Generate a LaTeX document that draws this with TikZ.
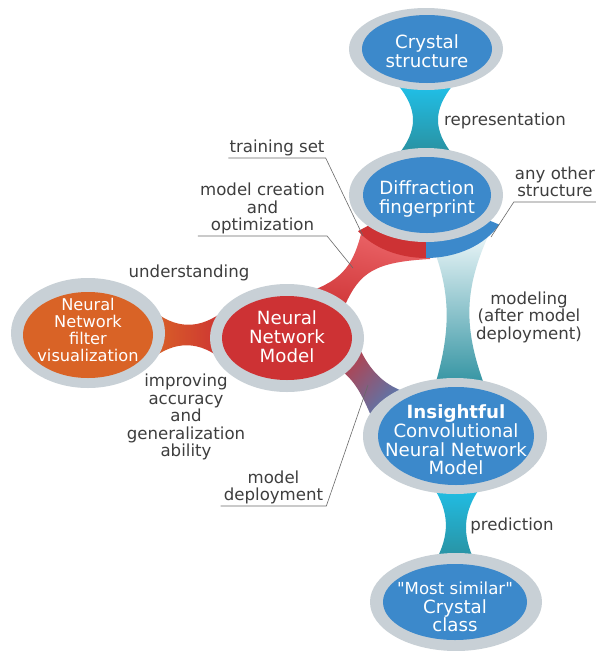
\documentclass[tikz,border=0pt]{standalone}
\usepackage{fontspec}
\setmainfont{DejaVu Sans}[Ligatures=TeXOff]
\usetikzlibrary{shapes.geometric,shadings}
\definecolor{ringgray}{RGB}{200,208,214}
\definecolor{cellblue}{RGB}{60,137,203}
\definecolor{nnred}{RGB}{205,50,52}
\definecolor{pinklight}{RGB}{242,112,116}
\definecolor{vizorange}{RGB}{217,99,38}
\definecolor{neckcyan}{RGB}{32,192,232}
\definecolor{neckteal}{RGB}{42,143,158}
\definecolor{neckpale}{RGB}{238,247,249}
\definecolor{labelgray}{RGB}{62,62,62}
\definecolor{leadgray}{RGB}{105,105,105}
\begin{document}
\begin{tikzpicture}[x=1pt,y=-1pt,
    celltext/.style={text=white,align=center,inner sep=0pt,font=\fontsize{18.2}{18.8}\selectfont},
    lbl/.style={text=labelgray,align=center,inner sep=1pt,font=\fontsize{16.6}{17.5}\selectfont},
    leader/.style={draw=leadgray,line width=0.6pt}]
\useasboundingbox (0,0) rectangle (595,651);
\fill[white] (0,0) rectangle (595,651);
\shade[top color=neckcyan,bottom color=neckteal] (398,85) .. controls (418,110) and (418,130) .. (398,155) -- (453,155) .. controls (433,130) and (433,110) .. (453,85) -- cycle;
\shade[top color=neckpale,bottom color=neckteal] (428,235) .. controls (452,290) and (452,330) .. (433,392) -- (487,392) .. controls (463,330) and (463,290) .. (490,232) -- cycle;
\shade[top color=neckcyan,bottom color=neckteal] (432,485) .. controls (450,512) and (450,535) .. (435,562) -- (475,562) .. controls (462,535) and (462,512) .. (482,485) -- cycle;
\shade[left color=vizorange,right color=nnred] (150,308) .. controls (175,330) and (200,330) .. (225,310) -- (225,362) .. controls (200,340) and (175,340) .. (150,360) -- cycle;
\shade[upper left=pinklight!60!nnred,upper right=pinklight,lower left=nnred,lower right=nnred] (362,230) .. controls (354,264) and (343,280) .. (308,292) -- (300,320) -- (345,305) .. controls (360,272) and (375,262) .. (430,259) -- (430,240) -- cycle;
\shade[upper left=nnred,lower right=cellblue,upper right=nnred!50!cellblue,lower left=nnred!50!cellblue] (338,368) .. controls (355,380) and (362,395) .. (372,418) -- (405,392) .. controls (385,385) and (370,372) .. (358,345) -- cycle;
\fill[nnred] (426,195) -- +(215:83pt and 63pt) arc[start angle=215,end angle=270,x radius=83pt,y radius=63pt] -- cycle;
\fill[cellblue] (426,195) -- +(270:83pt and 63pt) arc[start angle=270,end angle=332,x radius=83pt,y radius=63pt] -- cycle;
\fill[ringgray] (426,49) ellipse [x radius=77pt,y radius=41pt];
\fill[ringgray] (426,195) ellipse [x radius=77pt,y radius=47pt];
\fill[ringgray] (287,338) ellipse [x radius=77pt,y radius=54pt];
\fill[ringgray] (88,333) ellipse [x radius=77pt,y radius=55pt];
\fill[ringgray] (455,436) ellipse [x radius=92pt,y radius=58pt];
\fill[ringgray] (456,602) ellipse [x radius=86pt,y radius=49pt];
\fill[cellblue] (427,49) ellipse [x radius=65pt,y radius=34pt];
\fill[cellblue] (427,195) ellipse [x radius=64pt,y radius=38pt];
\fill[nnred] (287,338) ellipse [x radius=65pt,y radius=42pt];
\fill[vizorange] (88,335) ellipse [x radius=65pt,y radius=43pt];
\fill[cellblue] (456,436) ellipse [x radius=78pt,y radius=49pt];
\fill[cellblue] (455,602) ellipse [x radius=72pt,y radius=38pt];
\node[celltext] (crystal) at (427,51) {Crystal\\structure};
\node[celltext] (finger) at (427,199) {Diffraction\\fingerprint};
\node[celltext] (nnmodel) at (287,337) {Neural\\Network\\Model};
\node[celltext,font=\fontsize{16.2}{17.3}\selectfont] (filtviz) at (88,330) {Neural\\Network\\filter\\visualization};
\node[celltext] (cnn) at (456,440) {\textbf{Insightful}\\Convolutional\\Neural Network\\Model};
\node[celltext] (crysclass) at (455,607) {{\fontsize{16.6}{18.8}\selectfont "Most similar"}\\Crystal\\class};
\node[lbl] (lrep) at (505,121) {representation};
\node[lbl] (lpred) at (512,526) {prediction};
\node[lbl] (lmodeling) at (529,317) {modeling\\(after model\\deployment)};
\node[lbl] (lunder) at (189,273) {understanding};
\node[lbl] (limprove) at (186,417) {improving\\accuracy\\and\\generalization\\ability};
\node[lbl,anchor=south,text depth=4pt] (ltrain) at (277,158) {training set};
\node[lbl,anchor=south,text depth=4pt,inner xsep=2pt] (lcreate) at (262.5,236) {model creation\\and\\optimization};
\node[lbl,anchor=south,text depth=4pt,inner xsep=3pt] (ldeploy) at (273.5,506) {model\\deployment};
\node[lbl,anchor=south,inner ysep=5pt] (lother) at (555,202) {any other\\structure};
\coordinate (ttrain) at (363,236);
\coordinate (tcreate) at (353,268);
\coordinate (tdeploy) at (368,385);
\coordinate (tother) at (491,237);
\draw[leader] (ltrain.south west) -- (ltrain.south east) -- (ttrain);
\draw[leader] (lcreate.south west) -- (lcreate.south east) -- (tcreate);
\draw[leader] (ldeploy.south west) -- (ldeploy.south east) -- (tdeploy);
\draw[leader] (lother.south east) -- (lother.south west) -- (tother);
\end{tikzpicture}
\end{document}
